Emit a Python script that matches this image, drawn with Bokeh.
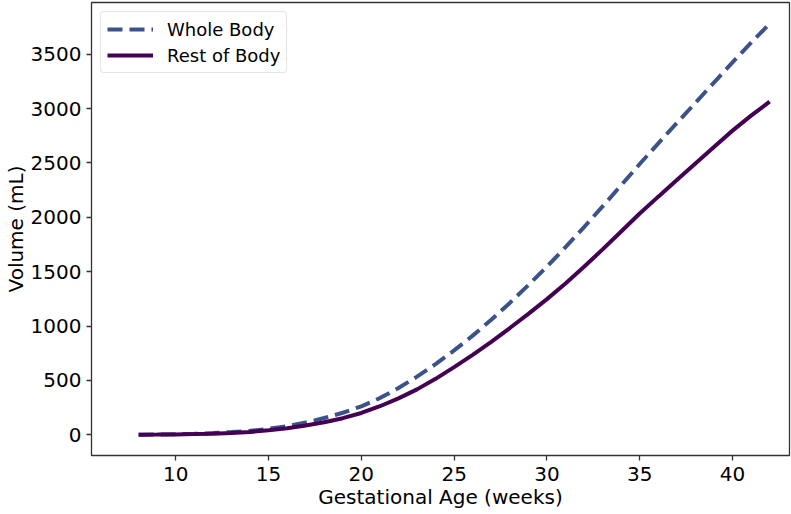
from bokeh.plotting import figure
from bokeh.models import Range1d, Legend, LegendItem, FixedTicker
from bokeh.embed import file_html
from bokeh.resources import INLINE

weeks = list(range(8, 43))
whole_body = [1, 3, 6, 10, 16, 25, 37, 55, 80, 113, 155, 203, 262, 338, 430, 535, 650,
              776, 912, 1058, 1213, 1377, 1547, 1725, 1910, 2100, 2295, 2490, 2680,
              2867, 3053, 3239, 3425, 3605, 3780]
rest_of_body = [1, 2, 4, 7, 11, 17, 27, 42, 61, 85, 115, 153, 201, 263, 335, 418, 515,
                623, 735, 855, 982, 1112, 1248, 1392, 1545, 1705, 1870, 2035, 2190,
                2343, 2495, 2647, 2797, 2935, 3063]
x_ticks = [10, 15, 20, 25, 30, 35, 40]
y_ticks = [0, 500, 1000, 1500, 2000, 2500, 3000, 3500]

FONT = "DejaVu Sans"

p = figure(width=791, height=514, output_backend="svg", toolbar_location=None,
           x_range=Range1d(5.46, 43.07), y_range=Range1d(-190, 3975),
           min_border_left=91, min_border_right=2, min_border_top=2, min_border_bottom=59)
p.background_fill_color = "white"
p.border_fill_color = "white"
p.outline_line_color = "#333333"
p.outline_line_width = 1.3
p.grid.visible = False

r_whole = p.line(weeks, whole_body, line_color="#3b528b", line_width=4, line_dash="15 7")
r_rest = p.line(weeks, rest_of_body, line_color="#440154", line_width=4)

for ax in (p.xaxis[0], p.yaxis[0]):
    ax.axis_line_color = None
    ax.major_tick_line_color = "#333333"
    ax.major_tick_line_width = 1.3
    ax.major_tick_out = 5
    ax.major_tick_in = 0
    ax.minor_tick_line_color = None
    ax.major_label_text_font = FONT
    ax.major_label_text_font_size = "20px"
    ax.major_label_text_color = "black"
    ax.axis_label_text_font = FONT
    ax.axis_label_text_font_size = "20px"
    ax.axis_label_text_font_style = "normal"
    ax.axis_label_text_color = "black"

p.xaxis[0].ticker = FixedTicker(ticks=x_ticks)
p.yaxis[0].ticker = FixedTicker(ticks=y_ticks)
p.xaxis[0].axis_label = "Gestational Age (weeks)"
p.yaxis[0].axis_label = "Volume (mL)"
p.xaxis[0].major_label_standoff = 6
p.yaxis[0].major_label_standoff = 5
p.xaxis[0].axis_label_standoff = 1
p.yaxis[0].axis_label_standoff = 0

legend = Legend(items=[LegendItem(label="Whole Body", renderers=[r_whole]),
                       LegendItem(label="Rest of Body", renderers=[r_rest])],
                location="top_left")
legend.label_text_font = FONT
legend.label_text_font_size = "18px"
legend.label_text_color = "black"
legend.border_line_color = "#cccccc"
legend.border_line_width = 1
legend.border_radius = 4
legend.background_fill_color = "white"
legend.background_fill_alpha = 0.8
legend.margin = 9
legend.padding = 6
legend.spacing = 4
legend.glyph_width = 46
legend.glyph_height = 22
legend.label_height = 22
legend.label_standoff = 14
p.add_layout(legend)

open("out.html", "w").write(file_html(p, INLINE))
